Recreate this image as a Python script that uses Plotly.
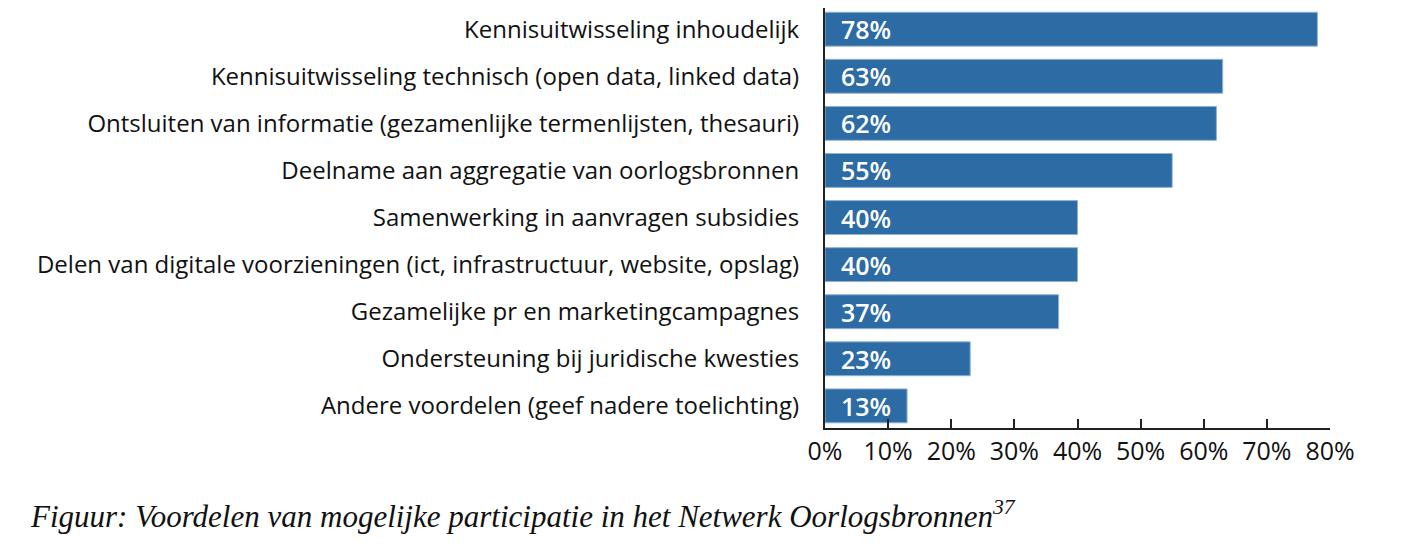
import plotly.graph_objects as go

categories = [
    "Kennisuitwisseling inhoudelijk",
    "Kennisuitwisseling technisch (open data, linked data)",
    "Ontsluiten van informatie (gezamenlijke termenlijsten, thesauri)",
    "Deelname aan aggregatie van oorlogsbronnen",
    "Samenwerking in aanvragen subsidies",
    "Delen van digitale voorzieningen (ict, infrastructuur, website, opslag)",
    "Gezamelijke pr en marketingcampagnes",
    "Ondersteuning bij juridische kwesties",
    "Andere voordelen (geef nadere toelichting)",
]
values = [78, 63, 62, 55, 40, 40, 37, 23, 13]
tick_vals = [0, 10, 20, 30, 40, 50, 60, 70, 80]
tick_text = ["0%", "10%", "20%", "30%", "40%", "50%", "60%", "70%", "80%"]
caption = "Figuur: Voordelen van mogelijke participatie in het Netwerk Oorlogsbronnen<sup>37</sup>"

fig = go.Figure(
    go.Bar(
        x=values,
        y=categories,
        orientation="h",
        marker=dict(color="#2D6BA5", line=dict(color="#8FB2D6", width=1)),
        text=[f"{v}%" for v in values],
        texttemplate="  %{text}",
        textposition="inside",
        insidetextanchor="start",
        constraintext="none",
        textfont=dict(family="Open Sans, sans-serif", size=25, color="white", weight=600),
        cliponaxis=False,
    )
)

fig.update_layout(
    width=1402,
    height=556,
    margin=dict(l=817, r=80, t=0, b=136),
    plot_bgcolor="white",
    paper_bgcolor="white",
    bargap=0.28,
    showlegend=False,
    font=dict(family="Open Sans, sans-serif", color="#111111"),
)

fig.update_xaxes(
    range=[0, 80],
    tickvals=tick_vals,
    ticktext=tick_text,
    showgrid=False,
    zeroline=False,
    showline=True,
    linecolor="#222222",
    linewidth=2,
    ticks="inside",
    ticklen=9,
    tickwidth=2,
    tickcolor="#222222",
    tickfont=dict(size=25, color="#111111"),
    automargin=False,
)

fig.update_yaxes(
    categoryorder="array",
    categoryarray=categories,
    range=[8.47, -0.45],
    showgrid=False,
    zeroline=False,
    showline=True,
    linecolor="#222222",
    linewidth=2,
    ticks="",
    ticklabelstandoff=19,
    tickfont=dict(size=24, color="#111111"),
    automargin=False,
)

fig.add_annotation(
    text=caption,
    xref="paper",
    yref="paper",
    x=(20 - 817) / 505,
    y=-0.205,
    xanchor="left",
    yanchor="middle",
    showarrow=False,
    font=dict(family="Liberation Serif, serif", size=31, color="#111111", style="italic"),
)

fig.write_html("out.html")
